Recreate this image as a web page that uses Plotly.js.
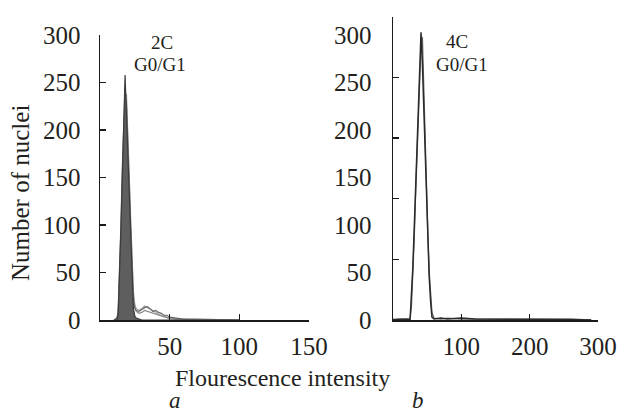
<!DOCTYPE html>
<html>
<head>
<meta charset="utf-8">
<script src="https://cdn.plot.ly/plotly-3.0.1.min.js"></script>
<style>html,body{margin:0;padding:0;background:#fff;}#chart{width:619px;height:414px;}</style>
</head>
<body>
<div id="chart"></div>
<script>
// Panel a (2C) – fluorescence intensity bins and nuclei counts
const leftX  = [10,12,13,14,15,16,17,18,19,20,21,22,23,24,25,26,28,30,32,34,36,38,40,42,44,46,48,50,55,60,70,80,90,100];
const leftA  = [0,0,5,45,95,150,205,258,215,170,125,80,40,12,4,2,1,0,0,0,0,0,0,0,0,0,0,0,0,0,0,0,0,0];
const leftB  = [0,2,8,50,100,160,215,245,225,175,130,85,45,20,12,10,9,11,13,14,12,9,10,8,7,5,5,3,2,1,1,0.5,0.3,0];
const leftC  = [0,1,4,35,80,140,195,235,230,190,140,95,55,25,14,9,7,8,10,9,8,7,6,5,4,3,2,1.5,1,0.5,0,0,0,0];
const leftD  = [0,1,3,30,70,130,185,225,238,200,150,100,60,30,16,12,10,12,15,13,11,10,8,6,5,4,3,2,1,1,0.5,0,0,0];
// Panel b (4C)
const rightX = [0,10,20,25,27,29,31,33,35,37,39,41,43,45,47,49,51,53,55,57,60,70,80,100,120,150,180,200,230,260,290];
const rightA = [0.5,1,1,0,25,55,95,140,185,228,270,303,270,220,170,120,80,45,20,3,1,2,1,2,1,1,1,0.5,1,0.5,0];
const rightB = [0,1,0.5,2,15,45,85,130,175,215,255,290,298,240,185,135,90,50,25,8,2,1,2,1,1,1,0.5,1,0.5,1,0];
// Tick labels
const leftXTicks  = [50,100,150];
const rightXTicks = [100,200,300];
const yTicks      = [0,50,100,150,200,250,300];
const rightTickMarks = [0,1,2,3,4,5];

const W = 619, H = 414;
const px = v => v / W, py = v => 1 - v / H;
const FONT = 'Liberation Serif';
const TXT = '#231f20';

const traces = [
  {x:leftX, y:leftD, xaxis:'x', yaxis:'y', mode:'lines', line:{color:'#a5a5a5', width:1.2}, hoverinfo:'skip'},
  {x:leftX, y:leftC, xaxis:'x', yaxis:'y', mode:'lines', line:{color:'#8a8a8a', width:1.2}, hoverinfo:'skip'},
  {x:leftX, y:leftB, xaxis:'x', yaxis:'y', mode:'lines', line:{color:'#6a6a6a', width:1.2}, hoverinfo:'skip'},
  {x:leftX, y:leftA, xaxis:'x', yaxis:'y', mode:'lines', fill:'tozeroy', fillcolor:'#5e5e5e', line:{color:'#3c3c3c', width:1.2}, hoverinfo:'skip'},
  {x:rightX, y:rightB, xaxis:'x2', yaxis:'y2', mode:'lines', line:{color:'#6a6a6a', width:1.3}, hoverinfo:'skip'},
  {x:rightX, y:rightA, xaxis:'x2', yaxis:'y2', mode:'lines', line:{color:'#2a2a2a', width:1.5}, hoverinfo:'skip'},
  {x:[], y:[], xaxis:'x2', yaxis:'y3', mode:'lines', hoverinfo:'skip'}
];

const axFont = {family: FONT, size: 25, color: TXT};
const baseAx = {showline:true, linecolor:'#1a1a1a', linewidth:1.5, ticks:'inside', ticklen:6, tickwidth:1.3, tickcolor:'#1a1a1a', showgrid:false, zeroline:false, tickfont:axFont, fixedrange:true};

function ann(text, x, y, size, extra) {
  return Object.assign({text:text, x:px(x), y:py(y), xref:'paper', yref:'paper', xanchor:'center', yanchor:'middle', showarrow:false, font:{family:FONT, size:size, color:TXT}}, extra || {});
}

const layout = {
  width: W, height: H,
  margin: {l:0, r:0, t:0, b:0},
  paper_bgcolor: '#fff', plot_bgcolor: 'rgba(0,0,0,0)',
  showlegend: false,
  xaxis: Object.assign({}, baseAx, {domain:[px(100), px(309)], range:[0,150], tickvals:leftXTicks, anchor:'y', ticklabelstandoff:3}),
  yaxis: Object.assign({}, baseAx, {domain:[1-320/H, 1-35/H], range:[0,300], tickvals:yTicks, anchor:'x', ticklabelstandoff:13}),
  xaxis2: Object.assign({}, baseAx, {domain:[px(393), px(598)], range:[0,300], tickvals:rightXTicks, anchor:'y2', ticklabelstandoff:3}),
  yaxis2: Object.assign({}, baseAx, {domain:[1-320/H, 1-16.7/H], range:[0,319.3], tickvals:yTicks, ticks:'', anchor:'x2', ticklabelstandoff:15}),
  yaxis3: Object.assign({}, baseAx, {domain:[1-320/H, 1-16.7/H], range:[0,5], tickvals:rightTickMarks, showticklabels:false, showline:false, overlaying:'y2', anchor:'x2'}),
  annotations: [
    ann('2C', 162, 42, 19),
    ann('G0/G1', 160, 64, 19),
    ann('4C', 457, 41, 19),
    ann('G0/G1', 462, 64, 19),
    ann('Number of nuclei', 20, 193, 25, {textangle:-90}),
    ann('Flourescence intensity', 282, 378, 24),
    ann('<i>a</i>', 175, 400, 23),
    ann('<i>b</i>', 418, 400, 23)
  ]
};

Plotly.newPlot('chart', traces, layout, {staticPlot:true, displayModeBar:false});
</script>
</body>
</html>
